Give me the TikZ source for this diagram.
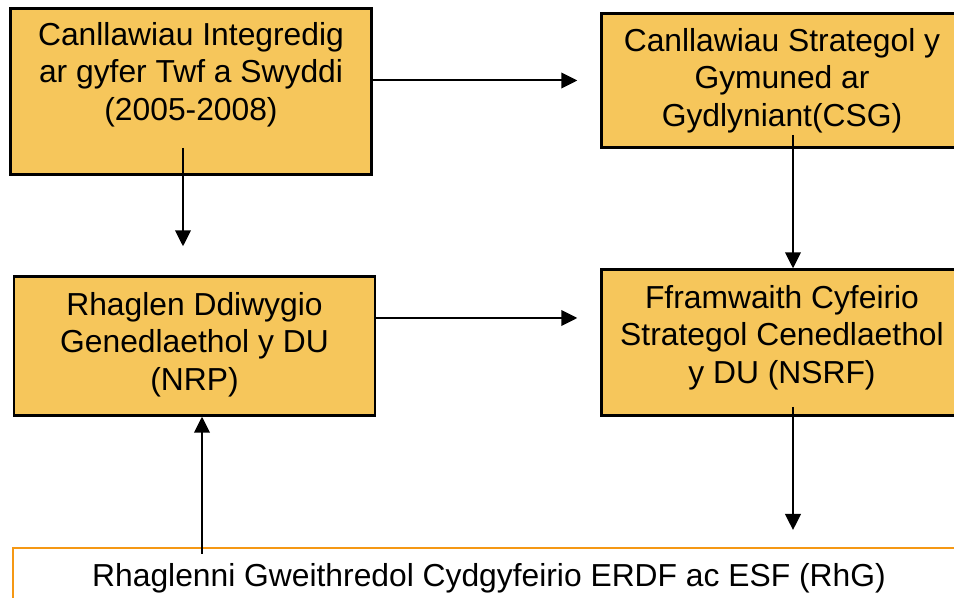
\documentclass[tikz,border=0pt]{standalone}
\usepackage{fontspec}
\setmainfont{Liberation Sans}
\usetikzlibrary{arrows.meta}
\usetikzlibrary{positioning}
\definecolor{boxfill}{RGB}{246,198,91}
\definecolor{rhgline}{RGB}{245,152,20}

\begin{document}
\begin{tikzpicture}[x=0.5pt,y=-0.5pt,->,>={Triangle[length=8pt,width=7.8pt]},line width=1pt,
    main box/.style={rectangle,draw=black,line width=1.2pt,fill=boxfill,minimum width=180.5pt,inner sep=0pt},
    end box/.style={rectangle,draw=rhgline,line width=1pt,fill=white,minimum width=476pt,minimum height=46pt,inner sep=0pt},
    box text/.style={align=center,inner sep=0pt,font=\fontsize{15.9}{18.7}\selectfont}]
   \useasboundingbox (0,0) rectangle (954,598);
   % boxes
   \node[main box,minimum height=83pt] (igtwf) at (191,91.5) {};
   \node[main box,minimum height=67pt] (csg) at (782,80.5) {};
   \node[main box,minimum height=69.5pt] (nrp) at (194.5,346) {};
   \node[main box,minimum height=73pt] (nsrf) at (782,342.5) {};
   \node[end box] (rhg) at (489,594) {};
   % texts
   \node[box text,below=7pt of igtwf.north] (igtwf text) {Canllawiau Integredig\\ar gyfer Twf a Swyddi\\(2005-2008)};
   \node[box text,below=7.5pt of csg.north] (csg text) {Canllawiau Strategol y\\Gymuned ar\\Gydlyniant(CSG)};
   \node[box text,below=8pt of nrp.north] (nrp text) {Rhaglen Ddiwygio\\Genedlaethol y DU\\(NRP)};
   \node[box text,below=8pt of nsrf.north] (nsrf text) {Fframwaith Cyfeirio\\Strategol Cenedlaethol\\y DU (NSRF)};
   \node[box text,below=7.5pt of rhg.north] (rhg text) {Rhaglenni Gweithredol Cydgyfeirio ERDF ac ESF (RhG)};
   % arrows
   \coordinate (igtwf out) at (183,148);
   \coordinate (csg out) at (793,135);
   \coordinate (nrp out) at (376,318);
   \coordinate (nsrf out) at (793,407);
   \coordinate (rhg out) at (202,554);
   \path (igtwf.east |- csg.west) edge[shorten >=11.5pt] (csg.west);
   \path (nrp out) edge[shorten >=11.5pt] (nrp out -| nsrf.west);
   \path (igtwf out) edge[shorten >=14.5pt] (igtwf out |- nrp.north);
   \path (csg out) edge (csg out |- nsrf.north);
   \path (nsrf out) edge[shorten >=8.5pt] (nsrf out |- rhg.north);
   \path (rhg out) edge (rhg out |- nrp.south);
\end{tikzpicture}
\end{document}
